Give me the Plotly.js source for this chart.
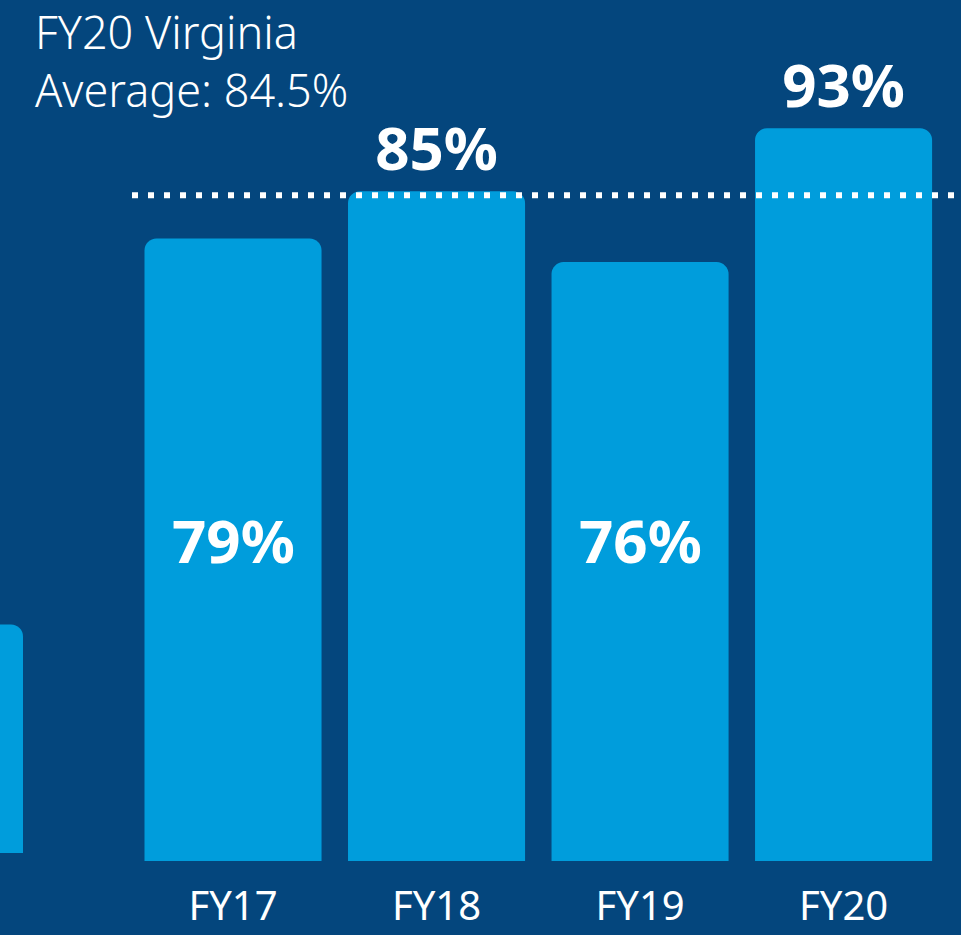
<!DOCTYPE html>
<html>
<head>
<meta charset="utf-8">
<script src="https://cdn.plot.ly/plotly-3.0.1.min.js"></script>
<style>html,body{margin:0;padding:0;background:#04467d;}#chart{width:961px;height:935px;}</style>
</head>
<body>
<div id="chart"></div>
<script>
// Data
const categories = ['FY17', 'FY18', 'FY19', 'FY20'];
const values = [79, 85, 76, 93];
const labels = ['79%', '85%', '76%', '93%'];
const labelInside = [true, false, true, false];
const prevCategories = ['Prior'];
const prevValues = [29];
const prevLabels = ['29%'];
const averageValue = [84.5];
const averageText = ['FY20 Virginia', 'Average: 84.5%'];

const BG = '#04467d';
const BAR = '#009ddc';
const FONT = '"Noto Sans", "Open Sans", sans-serif';
const LABEL_FONT = {family: FONT, size: 60, color: '#ffffff', weight: 700};
const INSIDE_LEVEL = 40.8; // vertical level (in axis units) of the inside labels

const main = {
  type: 'bar',
  x: categories,
  y: values,
  text: labels.map((t, i) => labelInside[i] ? '' : t),
  textposition: 'outside',
  textangle: 0,
  cliponaxis: false,
  textfont: LABEL_FONT,
  marker: {color: BAR, line: {width: 0}, cornerradius: 12},
  hoverinfo: 'skip',
  xaxis: 'x', yaxis: 'y'
};

const prev = {
  type: 'bar',
  x: prevCategories,
  y: prevValues,
  text: prevLabels,
  textposition: 'inside',
  insidetextanchor: 'middle',
  textangle: 0,
  textfont: LABEL_FONT,
  marker: {color: BAR, line: {width: 0}, cornerradius: 12},
  hoverinfo: 'skip',
  xaxis: 'x2', yaxis: 'y2'
};

const insideAnnotations = categories
  .map((c, i) => ({c, i}))
  .filter(d => labelInside[d.i])
  .map(d => ({
    xref: 'x', yref: 'y',
    x: d.c, y: INSIDE_LEVEL,
    xanchor: 'center', yanchor: 'middle',
    showarrow: false,
    text: labels[d.i],
    font: LABEL_FONT
  }));

const titleAnnotations = averageText.map((t, i) => ({
  xref: 'paper', yref: 'paper',
  x: 34 / 961, y: 1 - (i * 58) / 935,
  xanchor: 'left', yanchor: 'top',
  align: 'left',
  borderpad: 0,
  showarrow: false,
  text: t,
  font: {family: FONT, size: 45, color: '#ffffff', weight: 300}
}));

const layout = {
  width: 961, height: 935,
  margin: {l: 0, r: 0, t: 0, b: 0, pad: 0},
  paper_bgcolor: BG,
  plot_bgcolor: 'rgba(0,0,0,0)',
  showlegend: false,
  bargap: 0.13,
  xaxis: {
    type: 'category',
    range: [-1.145, 3.577],
    domain: [0, 1],
    showgrid: false, zeroline: false, showline: false,
    ticks: '',
    tickfont: {family: FONT, size: 40, color: '#ffffff'},
    ticklabelstandoff: 18,
    fixedrange: true
  },
  yaxis: {
    range: [0, 861 / 7.88],
    domain: [74 / 935, 1],
    showgrid: false, zeroline: false, showline: false,
    showticklabels: false, ticks: '',
    fixedrange: true
  },
  xaxis2: {
    type: 'category',
    anchor: 'y2',
    range: [0.322, 5.044],
    domain: [0, 1],
    showgrid: false, zeroline: false, showline: false,
    showticklabels: false, ticks: '',
    fixedrange: true
  },
  yaxis2: {
    anchor: 'x2',
    range: [0, 853 / 7.88],
    domain: [82 / 935, 1],
    showgrid: false, zeroline: false, showline: false,
    showticklabels: false, ticks: '',
    fixedrange: true
  },
  shapes: [{
    type: 'line',
    xref: 'paper', yref: 'y',
    x0: 132 / 961, x1: 1,
    y0: averageValue[0], y1: averageValue[0],
    line: {color: '#ffffff', width: 6, dash: '6px,10px'},
    layer: 'above'
  }],
  annotations: titleAnnotations.concat(insideAnnotations)
};

Plotly.newPlot('chart', [prev, main], layout, {displayModeBar: false, staticPlot: true});
</script>
</body>
</html>
